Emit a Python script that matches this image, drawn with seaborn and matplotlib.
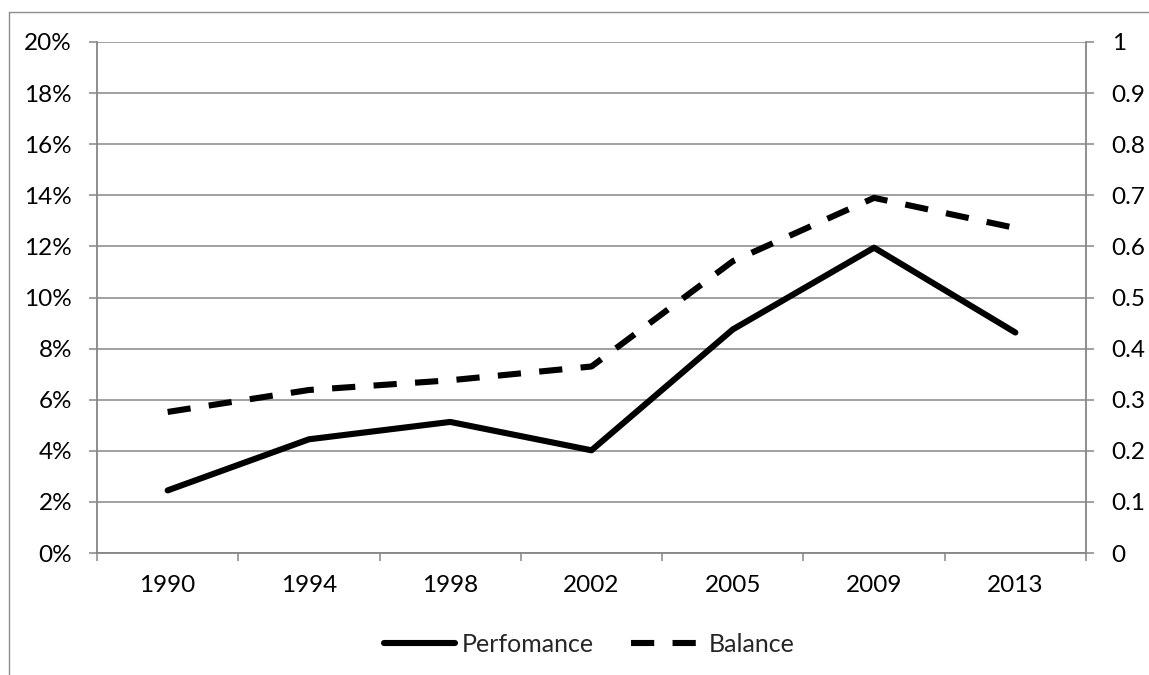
import matplotlib
matplotlib.use("Agg")
import matplotlib.pyplot as plt
from matplotlib.lines import Line2D
from matplotlib.ticker import FixedLocator, FuncFormatter, NullFormatter
import seaborn as sns
import pandas as pd

# Survey years and the two indicators
years = ["1990", "1994", "1998", "2002", "2005", "2009", "2013"]
performance = [0.0245, 0.0445, 0.0513, 0.0402, 0.0875, 0.1195, 0.0863]
balance = [0.276, 0.319, 0.338, 0.365, 0.571, 0.695, 0.636]

left_ticks = [0.00, 0.02, 0.04, 0.06, 0.08, 0.10, 0.12, 0.14, 0.16, 0.18, 0.20]
right_ticks = [0.0, 0.1, 0.2, 0.3, 0.4, 0.5, 0.6, 0.7, 0.8, 0.9, 1.0]

df = pd.DataFrame({"year": years, "Perfomance": performance, "Balance": balance})

sns.set_theme(style="white")
plt.rcParams["font.family"] = ["Lato", "DejaVu Sans"]
FS = 17.5
plt.rcParams["font.size"] = FS

GRAY = "#868686"
W, H = 1149, 675
fig = plt.figure(figsize=(W / 100, H / 100), dpi=100)
fig.patch.set_facecolor("white")

ax = fig.add_axes([97 / W, 1 - 553 / H, (1086 - 97) / W, (553 - 42) / H])
ax2 = ax.twinx()

LW = 4.4
DASH = (0, (3.8, 3.0))
sns.lineplot(data=df, x="year", y="Perfomance", ax=ax, color="black",
             linewidth=LW, solid_capstyle="round", solid_joinstyle="round",
             sort=False, label="Perfomance", legend=False)
sns.lineplot(data=df, x="year", y="Balance", ax=ax2, color="black",
             linewidth=LW, linestyle=DASH, dash_capstyle="butt",
             sort=False, label="Balance", legend=False)

n = len(years)
ax.set_xlim(-0.5, n - 0.5)
ax.set_ylim(0, 0.20)
ax2.set_ylim(0, 1.0)

# horizontal gridlines from the left scale
ax.yaxis.set_major_locator(FixedLocator(left_ticks))
ax.yaxis.set_major_formatter(FuncFormatter(lambda v, p: f"{v * 100:.0f}%"))
ax.grid(axis="y", color=GRAY, linewidth=1.1)
ax.grid(axis="x", visible=False)
ax.set_axisbelow(True)

ax2.yaxis.set_major_locator(FixedLocator(right_ticks))
ax2.yaxis.set_major_formatter(FuncFormatter(lambda v, p: f"{v:g}"))
ax2.grid(False)

# category boundaries carry the tick marks, centers carry the labels
ax.xaxis.set_major_locator(FixedLocator([i - 0.5 for i in range(n + 1)]))
ax.xaxis.set_major_formatter(NullFormatter())
ax.xaxis.set_minor_locator(FixedLocator(list(range(n))))
ax.xaxis.set_minor_formatter(FuncFormatter(lambda v, p: years[int(round(v))]))
ax.tick_params(axis="x", which="major", direction="out", length=6, width=1.1,
               color=GRAY, bottom=True)
ax.tick_params(axis="x", which="minor", length=0, pad=15.5, labelsize=FS,
               labelcolor="black", bottom=True)
ax.tick_params(axis="y", direction="out", length=6, width=1.1, color=GRAY,
               pad=12, labelsize=FS, labelcolor="black", left=True)
ax2.tick_params(axis="y", direction="out", length=6, width=1.1, color=GRAY,
                pad=12.5, labelsize=FS, labelcolor="black", right=True)

ax.set_xlabel("")
ax.set_ylabel("")
ax2.set_ylabel("")

for a in (ax, ax2):
    for s in a.spines.values():
        s.set_visible(False)
ax.spines["left"].set_visible(True)
ax.spines["bottom"].set_visible(True)
ax2.spines["right"].set_visible(True)
for s in (ax.spines["left"], ax.spines["bottom"], ax2.spines["right"]):
    s.set_color(GRAY)
    s.set_linewidth(1.3)

# legend below the plot
handles = [
    Line2D([], [], color="black", linewidth=LW, solid_capstyle="round"),
    Line2D([], [], color="black", linewidth=LW, linestyle=DASH,
           dash_capstyle="butt"),
]
fig.legend(handles, ["Perfomance", "Balance"], loc="center",
           bbox_to_anchor=(589 / W, 1 - 644 / H), ncol=2, frameon=False,
           fontsize=18, handlelength=2.85, handletextpad=0.25,
           columnspacing=1.5)

# chart area border (left and top edges)
fig.add_artist(Line2D([9 / W, 9 / W], [0, 1 - 12 / H], color="#8c8c8c",
                      linewidth=1.0, transform=fig.transFigure))
fig.add_artist(Line2D([9 / W, 1], [1 - 12 / H, 1 - 12 / H], color="#8c8c8c",
                      linewidth=1.0, transform=fig.transFigure))

fig.savefig("out.png", dpi=100, facecolor="white")
